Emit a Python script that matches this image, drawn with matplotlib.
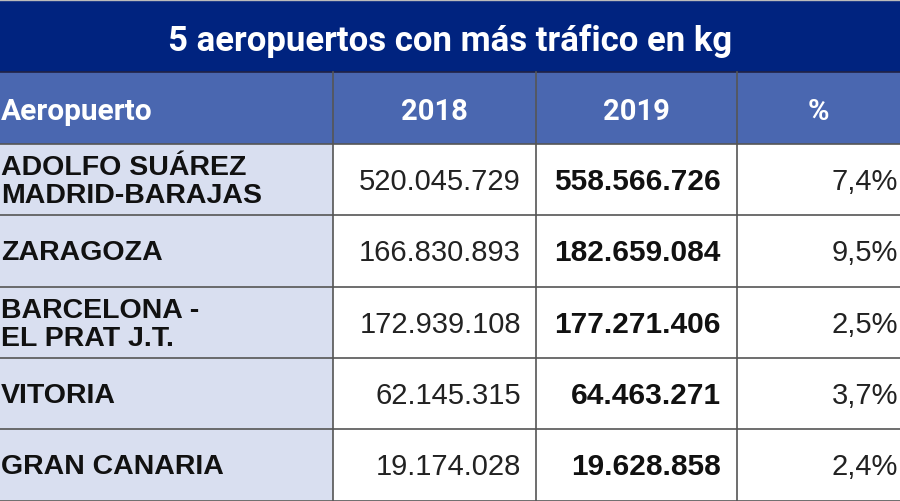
import matplotlib.pyplot as plt
from matplotlib.patches import Rectangle

title = "5 aeropuertos con más tráfico en kg"
headers = ["Aeropuerto", "2018", "2019", "%"]
airports = ["ADOLFO SUÁREZ\nMADRID-BARAJAS", "ZARAGOZA", "BARCELONA -\nEL PRAT J.T.",
            "VITORIA", "GRAN CANARIA"]
kg_2018 = ["520.045.729", "166.830.893", "172.939.108", "62.145.315", "19.174.028"]
kg_2019 = ["558.566.726", "182.659.084", "177.271.406", "64.463.271", "19.628.858"]
pct = ["7,4%", "9,5%", "2,5%", "3,7%", "2,4%"]

# layout in pixels
W, H = 900, 502
col_x = [0, 333, 536, 737, 900]
title_top, head_top, body_top, row_h = 2, 73, 145, 71.3

navy = "#00237f"
head_blue = "#4a67b0"
lav = "#d9dff0"
grid = "#555555"

fig = plt.figure(figsize=(9, 5.02), dpi=100)
ax = fig.add_axes([0, 0, 1, 1])
ax.set_xlim(0, W)
ax.set_ylim(H, 0)
ax.axis("off")

ax.add_patch(Rectangle((0, title_top), W, head_top - title_top, facecolor=navy, edgecolor="none"))
ax.plot([0, W], [1, 1], color="#bbbbbb", lw=1)
ax.text(W / 2, (title_top + head_top) / 2 + 3, title, color="white", fontsize=25,
        fontweight="bold", family="Roboto", ha="center", va="center")

# header row
ax.add_patch(Rectangle((0, head_top), W, body_top - head_top, facecolor=head_blue, edgecolor="none"))
hy = (head_top + body_top) / 2 + 2.5
ax.text(1, hy, headers[0], color="white", fontsize=21.5, fontweight="bold", family="Roboto",
        ha="left", va="center")
for i in range(1, 4):
    ax.text((col_x[i] + col_x[i + 1]) / 2, hy, headers[i], color="white", fontsize=21,
            fontweight="bold", family="Roboto", ha="center", va="center")

# body
n = len(airports)
ax.add_patch(Rectangle((0, body_top), col_x[1], n * row_h, facecolor=lav, edgecolor="none"))
for r in range(n):
    yc = body_top + (r + 0.5) * row_h + 1.5
    ax.text(1, yc, airports[r], fontsize=20.5, fontweight="bold", family="Liberation Sans",
            ha="left", va="center", linespacing=1.08, color="#111111")
    ax.text(col_x[2] - 15, yc, kg_2018[r], fontsize=21, family="Liberation Sans",
            ha="right", va="center", color="#222222")
    ax.text(col_x[3] - 16, yc, kg_2019[r], fontsize=21.5, fontweight="bold", family="Liberation Sans",
            ha="right", va="center", color="#111111")
    ax.text(W - 2, yc, pct[r], fontsize=21, family="Liberation Sans",
            ha="right", va="center", color="#222222")

# grid lines
bottom = body_top + n * row_h
for r in range(n + 1):
    y = body_top + r * row_h
    ax.plot([0, W], [y, y], color=grid, lw=1.2)
ax.plot([0, W], [head_top, head_top], color="#222244", lw=1.2)
for x in col_x[1:4]:
    ax.plot([x, x], [head_top, bottom], color=grid, lw=1.2)

fig.savefig("out.png", dpi=100)
